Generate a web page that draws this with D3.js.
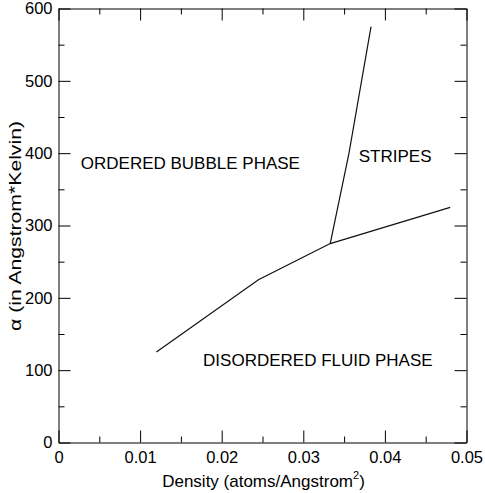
<!DOCTYPE html>
<html>
<head>
<meta charset="utf-8">
<script src="https://cdn.jsdelivr.net/npm/d3@7"></script>
<style>
  html, body { margin: 0; padding: 0; background: #fff; }
  svg { display: block; font-family: "Liberation Sans", Arial, Helvetica, sans-serif; }
</style>
</head>
<body>
<svg id="chart" width="485" height="493"></svg>
<script>
// ---- data ----
const lowerBoundaryDensity = [0.012, 0.0245, 0.0333, 0.048];
const lowerBoundaryAlpha   = [125, 225, 275, 325];
const upperBoundaryDensity = [0.0333, 0.0356, 0.0383];
const upperBoundaryAlpha   = [275, 400, 575];
const xTicks = [0, 0.01, 0.02, 0.03, 0.04, 0.05];
const xTickLabels = ["0", "0.01", "0.02", "0.03", "0.04", "0.05"];
const yTicks = [0, 100, 200, 300, 400, 500, 600];
const yTickLabels = ["0", "100", "200", "300", "400", "500", "600"];
const xMinorTicks = [0.005, 0.015, 0.025, 0.035, 0.045];
const yMinorTicks = [50, 150, 250, 350, 450, 550];
const phaseLabels = ["ORDERED BUBBLE PHASE", "STRIPES", "DISORDERED FLUID PHASE"];
const phaseLabelDensity = [0.00273, 0.0368, 0.01772];
const phaseLabelAlpha = [378.5, 388.3, 106.4];

// ---- layout ----
const W = 485, H = 493;
const m = { left: 58.5, right: 18.5, top: 8.5, bottom: 50.5 };
const FONT = "Liberation Sans, Arial, Helvetica, sans-serif";
const svg = d3.select("#chart");
const x = d3.scaleLinear().domain([0, 0.05]).range([m.left, W - m.right]);
const y = d3.scaleLinear().domain([0, 600]).range([H - m.bottom, m.top]);

function styleAxis(g) {
  g.attr("font-family", FONT).attr("font-size", 16.5);
  g.select(".domain").attr("stroke", "#000").attr("stroke-width", 1);
  g.selectAll(".tick line").attr("stroke", "#000").attr("stroke-width", 1);
  g.selectAll(".tick text").attr("fill", "#000");
}

// major axes with labels
const gx = svg.append("g").attr("transform", `translate(0,${y(0)})`)
  .call(d3.axisBottom(x).tickValues(xTicks).tickSizeInner(-12).tickSizeOuter(0).tickPadding(9)
    .tickFormat((d, i) => xTickLabels[i]));
gx.call(styleAxis);

const gy = svg.append("g").attr("transform", `translate(${x(0)},0)`)
  .call(d3.axisLeft(y).tickValues(yTicks).tickSizeInner(-12).tickSizeOuter(0).tickPadding(6)
    .tickFormat((d, i) => yTickLabels[i]));
gy.call(styleAxis);

// top / right axes (ticks only)
const gxt = svg.append("g").attr("transform", `translate(0,${y(600)})`)
  .call(d3.axisTop(x).tickValues(xTicks).tickSizeInner(-12).tickSizeOuter(0).tickFormat(""));
gxt.call(styleAxis);
const gyr = svg.append("g").attr("transform", `translate(${x(0.05)},0)`)
  .call(d3.axisRight(y).tickValues(yTicks).tickSizeInner(-12).tickSizeOuter(0).tickFormat(""));
gyr.call(styleAxis);

// minor ticks
[[d3.axisBottom(x), `translate(0,${y(0)})`, xMinorTicks],
 [d3.axisTop(x), `translate(0,${y(600)})`, xMinorTicks],
 [d3.axisLeft(y), `translate(${x(0)},0)`, yMinorTicks],
 [d3.axisRight(y), `translate(${x(0.05)},0)`, yMinorTicks]].forEach(([ax, tr, vals]) => {
  const g = svg.append("g").attr("transform", tr)
    .call(ax.tickValues(vals).tickSizeInner(-6).tickSizeOuter(0).tickFormat(""));
  g.select(".domain").remove();
  g.selectAll(".tick line").attr("stroke", "#000");
});

// boundary lines
const line = d3.line().x(d => x(d[0])).y(d => y(d[1]));
const lower = lowerBoundaryDensity.map((d, i) => [d, lowerBoundaryAlpha[i]]);
const upper = upperBoundaryDensity.map((d, i) => [d, upperBoundaryAlpha[i]]);
[lower, upper].forEach(pts => {
  svg.append("path").attr("d", line(pts)).attr("fill", "none")
    .attr("stroke", "#111").attr("stroke-width", 1.2);
});

// phase labels
svg.append("g").selectAll("text").data(phaseLabels).join("text")
  .attr("x", (d, i) => x(phaseLabelDensity[i]))
  .attr("y", (d, i) => y(phaseLabelAlpha[i]))
  .attr("font-size", 17).attr("fill", "#000")
  .text(d => d);

// axis titles
const xt = svg.append("text")
  .attr("x", (x(0) + x(0.05)) / 2 + 1).attr("y", 487)
  .attr("text-anchor", "middle").attr("font-size", 17).attr("fill", "#000");
xt.append("tspan").text("Density (atoms/Angstrom");
xt.append("tspan").attr("font-size", 11).attr("dy", -8).text("2");
xt.append("tspan").attr("dy", 8).text(")");

svg.append("text")
  .attr("transform", `translate(20.5,${226}) rotate(-90)`)
  .attr("text-anchor", "middle").attr("font-size", 17).attr("fill", "#000")
  .attr("textLength", 210).attr("lengthAdjust", "spacingAndGlyphs")
  .text("α (in Angstrom*Kelvin)");
</script>
</body>
</html>
